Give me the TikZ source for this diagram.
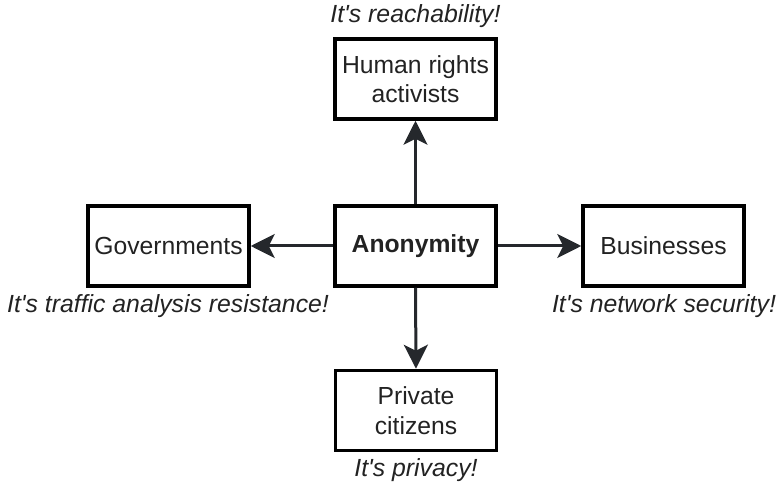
\documentclass[tikz,border=0pt]{standalone}
\usepackage{fontspec}
\setmainfont{Liberation Sans}
\usetikzlibrary{arrows.meta}
\definecolor{arrowc}{HTML}{25282C}
\definecolor{textc}{HTML}{222222}
\begin{document}
\begin{tikzpicture}[x=1pt,y=-1pt,
  box/.style={draw=black,line width=3.5pt,minimum width=161pt,minimum height=80pt,
    inner sep=0pt,align=center,text=textc,font=\fontsize{24.7}{29.5}\selectfont},
  lbl/.style={inner sep=0pt,text=textc,font=\fontsize{24.8}{29.5}\selectfont\itshape},
  conn/.style={draw=arrowc,line width=3pt,-{Stealth[length=24pt,width=24pt,inset=6pt]}}]
\useasboundingbox (0,0) rectangle (780,486);
\node[box,font=\fontsize{24.7}{29.5}\selectfont\bfseries] (anon) at (415.5,246) {Anonymity};
\node[box] (hum) at (415.5,79) {Human rights\\activists};
\node[box] (priv) at (416,410.5) {Private\\citizens};
\node[box] (gov) at (168.5,246) {Governments};
\node[box] (bus) at (663.5,246) {Businesses};
\node[lbl] (lhum) at (415.5,16) {It\textquotesingle s reachability!};
\node[lbl] (lgov) at (168,306) {It\textquotesingle s traffic analysis resistance!};
\node[lbl] (lbus) at (664,306) {It\textquotesingle s network security!};
\node[lbl] (lpriv) at (416,470) {It\textquotesingle s privacy!};
\draw[conn] (anon.north) -- (hum.south);
\draw[conn] (anon.south) -- (priv.north);
\draw[conn] (anon.west) -- (gov.east);
\draw[conn] (anon.east) -- (bus.west);
\end{tikzpicture}
\end{document}
